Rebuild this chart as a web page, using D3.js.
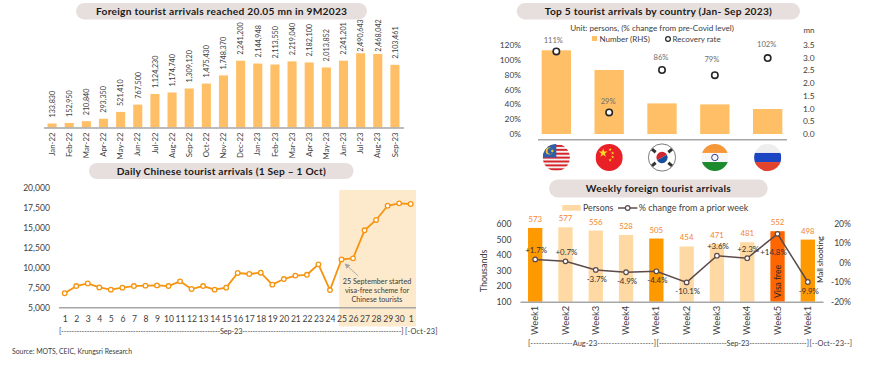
<!DOCTYPE html>
<html>
<head>
<meta charset="utf-8">
<script src="https://cdn.jsdelivr.net/npm/d3@7"></script>
<style>
  html, body { margin: 0; padding: 0; background: #fff; }
  svg { display: block; }
  text { font-family: Lato, "Open Sans", sans-serif; }
</style>
</head>
<body>
<svg id="chart" width="870" height="367"></svg>
<script>
// --- Monthly arrivals ---
const months = ["Jan-22","Feb-22","Mar-22","Apr-22","May-22","Jun-22","Jul-22","Aug-22","Sep-22","Oct-22","Nov-22","Dec-22","Jan-23","Feb-23","Mar-23","Apr-23","May-23","Jun-23","Jul-23","Aug-23","Sep-23"];
const arrivals = [133830,152950,210840,293350,521410,767500,1124230,1174740,1309120,1475430,1748370,2241200,2144948,2113550,2219040,2182100,2013852,2241201,2490643,2468042,2103461];

// --- Daily Chinese arrivals ---
const days = ["1","2","3","4","5","6","7","8","9","10","11","12","13","14","15","16","17","18","19","20","21","22","23","24","25","26","27","28","29","30","1 "];
const chinese = [6800,7700,8030,7530,7250,7500,7700,7750,7780,7700,8280,7330,7700,7250,7500,9320,9200,9360,7870,8570,9000,9100,10400,7200,11020,11150,14640,15930,17700,18000,17920];
const chineseTicks = [5000,7500,10000,12500,15000,17500,20000];

// --- Top 5 countries ---
const countries = ["Malaysia","China","South Korea","India","Russia"];
const countryNumber = [3.28,2.51,1.20,1.16,0.98];
const recovery = [111,29,86,79,102];
const recoveryTicks = [0,20,40,60,80,100,120];
const numberTicks = [0,0.5,1,1.5,2,2.5,3,3.5];

// --- Weekly arrivals ---
const weeks = ["Week1","Week2","Week3","Week4","Week1","Week2","Week3","Week4","Week5","Week1"];
const weekPersons = [573,577,556,528,505,454,471,481,552,498];
const weekChange = [1.7,0.7,-3.7,-4.9,-4.4,-10.1,3.6,2.3,14.8,-9.9];
const weekKind = ["first","plain","plain","plain","first","plain","plain","plain","visa","first"];
const personTicks = [100,200,300,400,500,600];
const changeTicks = [-20,-10,0,10,20];

const ORANGE = "#ffbf66", GREY_TXT = "#404040", AXIS_GREY = "#a6a6a6";
const fmt = d3.format(",");
const svg = d3.select("#chart");

function pill(x0, x1, y0, y1, label, size, width) {
  svg.append("rect").attr("x", x0).attr("y", y0).attr("width", x1 - x0).attr("height", y1 - y0)
    .attr("rx", (y1 - y0) / 2).attr("fill", "#e7dfdd");
  svg.append("text").attr("x", (x0 + x1) / 2).attr("y", (y0 + y1) / 2 + size * 0.35)
    .attr("text-anchor", "middle").attr("font-size", size).attr("font-weight", 700)
    .attr("fill", "#1a1a1a").attr("textLength", width).attr("lengthAdjust", "spacing").text(label);
}

// strip the ticks and restyle an axis group
function styleAxis(g, size, showDomain) {
  g.selectAll(".tick line").remove();
  if (!showDomain) g.select(".domain").remove();
  else g.select(".domain").attr("stroke", AXIS_GREY).attr("stroke-width", 1.5);
  g.selectAll("text").attr("font-size", size).attr("fill", GREY_TXT);
}

function bracket(x0, x1, y, label, size) {
  svg.append("text").attr("x", x0).attr("y", y).attr("font-size", size).attr("fill", GREY_TXT)
    .attr("textLength", x1 - x0).attr("lengthAdjust", "spacing").text(label);
}

// ---------- Chart 1: monthly arrivals ----------
(function () {
  pill(76, 367, 3, 19.5, "Foreign tourist arrivals reached 20.05 mn in 9M2023", 10.2, 251);
  const x = d3.scaleBand().domain(months.map((d, i) => i)).range([43.5, 403.5]).paddingInner(0.47).paddingOuter(0.235);
  const y = d3.scaleLinear().domain([0, 2500000]).range([127.5, 53]);

  svg.append("g").selectAll("rect").data(arrivals).join("rect")
    .attr("x", (d, i) => x(i)).attr("y", d => y(d))
    .attr("width", x.bandwidth()).attr("height", d => y(0) - y(d)).attr("fill", ORANGE);

  // the two tallest labels sit closer to their bars in the original
  svg.append("g").selectAll("text").data(arrivals).join("text")
    .attr("transform", (d, i) => `translate(${x(i) + x.bandwidth() / 2 + 2.8},${Math.max(y(d) - 6, 51.7)}) rotate(-90)`)
    .attr("font-size", 7.2).attr("fill", GREY_TXT).text(d => fmt(d));

  const ax = svg.append("g").attr("transform", "translate(0,127.5)")
    .call(d3.axisBottom(x).tickFormat(i => months[i]).tickSize(0));
  styleAxis(ax, 7.8, true);
  ax.selectAll("text").attr("transform", "rotate(-90)").attr("text-anchor", "end")
    .attr("x", -5).attr("y", 0).attr("dy", "0.33em");
})();

// ---------- Chart 2: daily Chinese arrivals ----------
(function () {
  pill(89, 353.5, 163, 179, "Daily Chinese tourist arrivals (1 Sep – 1 Oct)", 10.2, 209);
  const x = d3.scalePoint().domain(days).range([64.7, 410.7]);
  const y = d3.scaleLinear().domain([5000, 20000]).range([307.7, 187.3]);

  svg.append("rect").attr("x", x("25") - 2.2).attr("y", 190)
    .attr("width", x("1 ") + 5.3 - (x("25") - 2.2)).attr("height", 136.5).attr("fill", "#fde9cb");

  const ay = svg.append("g").attr("transform", "translate(52,0)")
    .call(d3.axisLeft(y).tickValues(chineseTicks).tickFormat(fmt).tickSize(0));
  styleAxis(ay, 8.6, false);
  ay.selectAll("text").attr("x", -2);

  const ax = svg.append("g").attr("transform", "translate(0,307.7)")
    .call(d3.axisBottom(x).tickSize(0));
  styleAxis(ax, 8.6, false);
  ax.selectAll("text").attr("y", 8);
  svg.append("line").attr("x1", 59).attr("x2", 416).attr("y1", y(5000)).attr("y2", y(5000))
    .attr("stroke", AXIS_GREY).attr("stroke-width", 1.5);

  const line = d3.line().x((d, i) => x(days[i])).y(d => y(d));
  svg.append("path").attr("d", line(chinese)).attr("fill", "none")
    .attr("stroke", "#f7940f").attr("stroke-width", 1.8);
  svg.append("g").selectAll("circle").data(chinese).join("circle")
    .attr("cx", (d, i) => x(days[i])).attr("cy", d => y(d)).attr("r", 2.3)
    .attr("fill", "#fff").attr("stroke", "#f7940f").attr("stroke-width", 1.3);

  // annotation arrow
  svg.append("defs").append("marker").attr("id", "ah").attr("viewBox", "0 0 6 6")
    .attr("refX", 5).attr("refY", 3).attr("markerWidth", 6).attr("markerHeight", 6).attr("orient", "auto")
    .append("path").attr("d", "M0,0L6,3L0,6Z").attr("fill", "#a6a6a6");
  svg.append("line").attr("x1", 358.3).attr("y1", 276).attr("x2", 345.3).attr("y2", 264)
    .attr("stroke", "#a6a6a6").attr("stroke-width", 0.9).attr("marker-end", "url(#ah)");
  ["25 September started", "visa-free scheme for", "Chinese tourists"].forEach((t, i) => {
    svg.append("text").attr("x", 377).attr("y", 284 + i * 9.2).attr("text-anchor", "middle")
      .attr("font-size", 7.2).attr("fill", GREY_TXT).text(t);
  });

  bracket(59, 403.5, 334, "[" + "-".repeat(62) + "Sep-23" + "-".repeat(62) + "]", 7.4);
  bracket(405, 437.5, 334, "[-Oct-23]", 7.4);

  svg.append("text").attr("x", 12).attr("y", 353.5).attr("font-size", 6.9).attr("fill", GREY_TXT)
    .text("Source: MOTS, CEIC, Krungsri Research");
})();

// ---------- Chart 3: top 5 countries ----------
(function () {
  pill(516.7, 800, 3, 19.5, "Top 5 tourist arrivals by country (Jan- Sep 2023)", 10.2, 227);
  svg.append("text").attr("x", 652).attr("y", 30.5).attr("text-anchor", "middle")
    .attr("font-size", 8.1).attr("fill", GREY_TXT).text("Unit: persons, (% change from pre-Covid level)");

  const x = d3.scaleBand().domain(countries).range([529.9, 794.1]).paddingInner(0.445).paddingOuter(0.2225);
  const yL = d3.scaleLinear().domain([0, 120]).range([134, 44.7]);
  const yR = d3.scaleLinear().domain([0, 3.5]).range([134, 44.7]);

  svg.append("g").selectAll("rect").data(countryNumber).join("rect")
    .attr("x", (d, i) => x(countries[i])).attr("y", d => yR(d))
    .attr("width", x.bandwidth()).attr("height", d => yR(0) - yR(d)).attr("fill", ORANGE);

  const aL = svg.append("g").attr("transform", "translate(523,0)")
    .call(d3.axisLeft(yL).tickValues(recoveryTicks).tickFormat(d => d + "%").tickSize(0));
  styleAxis(aL, 8.4, false);
  aL.selectAll("text").attr("x", -2);

  const aR = svg.append("g").attr("transform", "translate(803,0)")
    .call(d3.axisRight(yR).tickValues(numberTicks).tickFormat(d3.format(".1f")).tickSize(0));
  styleAxis(aR, 8.4, false);
  aR.selectAll("text").attr("x", 0);
  svg.append("text").attr("x", 803.5).attr("y", 33).attr("font-size", 8).attr("fill", GREY_TXT).text("mn");

  svg.append("line").attr("x1", 538).attr("x2", 787).attr("y1", 139.7).attr("y2", 139.7)
    .attr("stroke", AXIS_GREY).attr("stroke-width", 1.5);

  const cx = (d, i) => x(countries[i]) + x.bandwidth() / 2;
  svg.append("g").selectAll("circle").data(recovery).join("circle")
    .attr("cx", cx).attr("cy", d => yL(d)).attr("r", 3.2)
    .attr("fill", "#fff").attr("stroke", "#262626").attr("stroke-width", 1.6);
  // labels were nudged by hand in the original
  const labelLift = [8, 8, 10, 13, 11], labelShift = [-3, -1, -1, -3, -1];
  svg.append("g").selectAll("text").data(recovery).join("text")
    .attr("x", (d, i) => cx(d, i) + labelShift[i]).attr("y", (d, i) => yL(d) - labelLift[i]).attr("text-anchor", "middle")
    .attr("font-size", 7.6).attr("fill", "#6e6e6e").text(d => d + "%");

  // legend
  svg.append("rect").attr("x", 592).attr("y", 36).attr("width", 5).attr("height", 5).attr("fill", ORANGE);
  svg.append("text").attr("x", 599.5).attr("y", 42).attr("font-size", 8).attr("fill", GREY_TXT).text("Number (RHS)");
  svg.append("circle").attr("cx", 668).attr("cy", 39).attr("r", 2.4)
    .attr("fill", "#fff").attr("stroke", "#262626").attr("stroke-width", 1.2);
  svg.append("text").attr("x", 672.5).attr("y", 42).attr("font-size", 8).attr("fill", GREY_TXT).text("Recovery rate");

  // flags
  const R = 13.6, fy = 157.5;
  const defs = svg.append("defs");
  countries.forEach((c, i) => {
    const fx = x(c) + x.bandwidth() / 2;
    const id = "flag" + i;
    defs.append("clipPath").attr("id", id).append("circle").attr("cx", fx).attr("cy", fy).attr("r", R);
    const g = svg.append("g").attr("clip-path", `url(#${id})`);
    const band = (y0, h, col) => g.append("rect").attr("x", fx - R).attr("y", fy - R + y0 * 2 * R)
      .attr("width", 2 * R).attr("height", h * 2 * R).attr("fill", col);
    if (c === "Malaysia") {
      band(0, 1, "#f2f2f2");
      d3.range(0, 7).forEach(k => band(k / 7 + 0.04, 1 / 14, "#d8232a"));
      g.append("rect").attr("x", fx - R).attr("y", fy - R).attr("width", R).attr("height", R).attr("fill", "#2f5fa8");
      g.append("circle").attr("cx", fx - 7).attr("cy", fy - 6.5).attr("r", 3.6).attr("fill", "#f7c52b");
      g.append("circle").attr("cx", fx - 5.8).attr("cy", fy - 6.5).attr("r", 3).attr("fill", "#2f5fa8");
      g.append("circle").attr("cx", fx - 4).attr("cy", fy - 6.5).attr("r", 1.2).attr("fill", "#f7c52b");
    } else if (c === "China") {
      band(0, 1, "#ea2027");
      const star = d3.symbol().type(d3.symbolStar);
      g.append("path").attr("d", star.size(24)()).attr("transform", `translate(${fx - 6},${fy - 4.5})`).attr("fill", "#fbdc24");
      [[1, -8], [3.5, -4.5], [3.5, -0.5], [1, 2.5]].forEach(p => {
        g.append("path").attr("d", star.size(3.5)()).attr("transform", `translate(${fx + p[0]},${fy + p[1]})`).attr("fill", "#fbdc24");
      });
    } else if (c === "South Korea") {
      band(0, 1, "#fff");
      g.append("path").attr("d", d3.arc()({ innerRadius: 0, outerRadius: 5.6, startAngle: -Math.PI / 2 - 0.5, endAngle: Math.PI / 2 - 0.5 }))
        .attr("transform", `translate(${fx},${fy})`).attr("fill", "#d0272f");
      g.append("path").attr("d", d3.arc()({ innerRadius: 0, outerRadius: 5.6, startAngle: Math.PI / 2 - 0.5, endAngle: Math.PI * 1.5 - 0.5 }))
        .attr("transform", `translate(${fx},${fy})`).attr("fill", "#1b4f9c");
      [[-8.2, -6.8, 40], [8.2, -6.8, -40], [-8.2, 6.8, -40], [8.2, 6.8, 40]].forEach(p => {
        g.append("rect").attr("x", -2.4).attr("y", -1.5).attr("width", 4.8).attr("height", 3).attr("fill", "#333")
          .attr("transform", `translate(${fx + p[0]},${fy + p[1]}) rotate(${p[2]})`);
      });
      svg.append("circle").attr("cx", fx).attr("cy", fy).attr("r", R).attr("fill", "none").attr("stroke", "#444").attr("stroke-width", 0.7);
    } else if (c === "India") {
      band(0, 1 / 3, "#f6973a");
      band(1 / 3, 1 / 3, "#f7f7f7");
      band(2 / 3, 1 / 3, "#1d8a2e");
      g.append("circle").attr("cx", fx).attr("cy", fy).attr("r", 3.2).attr("fill", "none").attr("stroke", "#2b3a8c").attr("stroke-width", 1);
    } else {
      band(0, 1 / 3, "#eeeeee");
      band(1 / 3, 1 / 3, "#1c45c4");
      band(2 / 3, 1 / 3, "#e2432d");
    }
  });
})();

// ---------- Chart 4: weekly arrivals ----------
(function () {
  pill(549, 767.7, 179.5, 197.5, "Weekly foreign tourist arrivals", 10.2, 145);
  const x = d3.scaleBand().domain(weeks.map((d, i) => i)).range([520, 823]).paddingInner(0.527).paddingOuter(0.265);
  const yL = d3.scaleLinear().domain([100, 600]).range([301.7, 223.7]);
  const yR = d3.scaleLinear().domain([-20, 20]).range([301.7, 223.7]);
  const barColor = { first: "#ff9900", plain: "#ffd9a3", visa: "#ff6600" };
  const cx = (d, i) => x(i) + x.bandwidth() / 2;

  svg.append("g").selectAll("rect").data(weekPersons).join("rect")
    .attr("x", (d, i) => x(i)).attr("y", d => yL(d))
    .attr("width", x.bandwidth()).attr("height", d => yL(100) - yL(d))
    .attr("fill", (d, i) => barColor[weekKind[i]]);

  svg.append("g").selectAll("text").data(weekPersons).join("text")
    .attr("x", cx).attr("y", d => yL(d) - 6).attr("text-anchor", "middle")
    .attr("font-size", 7.8).attr("fill", "#f5842a").text(d => d);

  const aL = svg.append("g").attr("transform", "translate(512,0)")
    .call(d3.axisLeft(yL).tickValues(personTicks).tickSize(0));
  styleAxis(aL, 8.6, false);
  aL.selectAll("text").attr("x", -0.5);
  svg.append("text").attr("transform", "translate(486.5,271) rotate(-90)").attr("text-anchor", "middle")
    .attr("font-size", 9).attr("fill", GREY_TXT).text("Thousands");

  const aR = svg.append("g").attr("transform", "translate(851,0)")
    .call(d3.axisLeft(yR).tickValues(changeTicks).tickFormat(d => d + "%").tickSize(0));
  styleAxis(aR, 8.6, false);
  aR.selectAll("text").attr("x", 0);

  const ax = svg.append("g").attr("transform", "translate(0,301.7)")
    .call(d3.axisBottom(x).tickFormat(i => weeks[i]).tickSize(0));
  styleAxis(ax, 9.4, true);
  ax.selectAll("text").attr("transform", "rotate(-90)").attr("text-anchor", "end")
    .attr("x", -4).attr("y", 0).attr("dy", "0.33em");

  const line = d3.line().x((d, i) => cx(d, i)).y(d => yR(d));
  svg.append("path").attr("d", line(weekChange)).attr("fill", "none")
    .attr("stroke", "#5c4a4a").attr("stroke-width", 1.5);
  svg.append("g").selectAll("circle").data(weekChange).join("circle")
    .attr("cx", cx).attr("cy", d => yR(d)).attr("r", 2.3)
    .attr("fill", "#fff").attr("stroke", "#5c4a4a").attr("stroke-width", 1.2);

  svg.append("g").selectAll("text").data(weekChange).join("text")
    .attr("x", (d, i) => cx(d, i) + (d > 14 ? -4 : 1))
    .attr("y", d => d > 14 ? yR(d) + 21 : (d > 0 ? yR(d) - 6.5 : yR(d) + 12))
    .attr("text-anchor", "middle").attr("font-size", 7.9).attr("fill", "#333")
    .text(d => (d > 0 ? "+" : "") + d.toFixed(1) + "%");

  // side notes on the weekly bars
  svg.append("text").attr("transform", `translate(${x(8) + x.bandwidth() / 2 + 3},298) rotate(-90)`)
    .attr("font-size", 8.6).attr("fill", "#262626").text("Visa free");
  svg.append("text").attr("transform", "translate(823,283) rotate(-90)")
    .attr("font-size", 7.9).attr("fill", "#262626").text("Mall shooting");

  // legend
  svg.append("rect").attr("x", 562.3).attr("y", 205).attr("width", 18.4).attr("height", 5.7).attr("fill", "#ffd9a3");
  svg.append("text").attr("x", 583).attr("y", 211).attr("font-size", 8.8).attr("fill", GREY_TXT).text("Persons");
  svg.append("line").attr("x1", 618).attr("x2", 637.3).attr("y1", 208).attr("y2", 208).attr("stroke", "#5c4a4a").attr("stroke-width", 1.5);
  svg.append("circle").attr("cx", 627.7).attr("cy", 208).attr("r", 2.3).attr("fill", "#fff").attr("stroke", "#5c4a4a").attr("stroke-width", 1.2);
  svg.append("text").attr("x", 638.7).attr("y", 211).attr("font-size", 9).attr("fill", GREY_TXT).text("% change from a prior week");

  bracket(528, 656, 346, "[" + "-".repeat(15) + "Aug-23" + "-".repeat(20) + "]", 7.4);
  bracket(656.5, 809, 346, "[" + "-".repeat(26) + "Sep-23" + "-".repeat(22) + "]", 7.4);
  bracket(809.5, 852, 346, "[--Oct--23--]", 7.4);
})();
</script>
</body>
</html>
